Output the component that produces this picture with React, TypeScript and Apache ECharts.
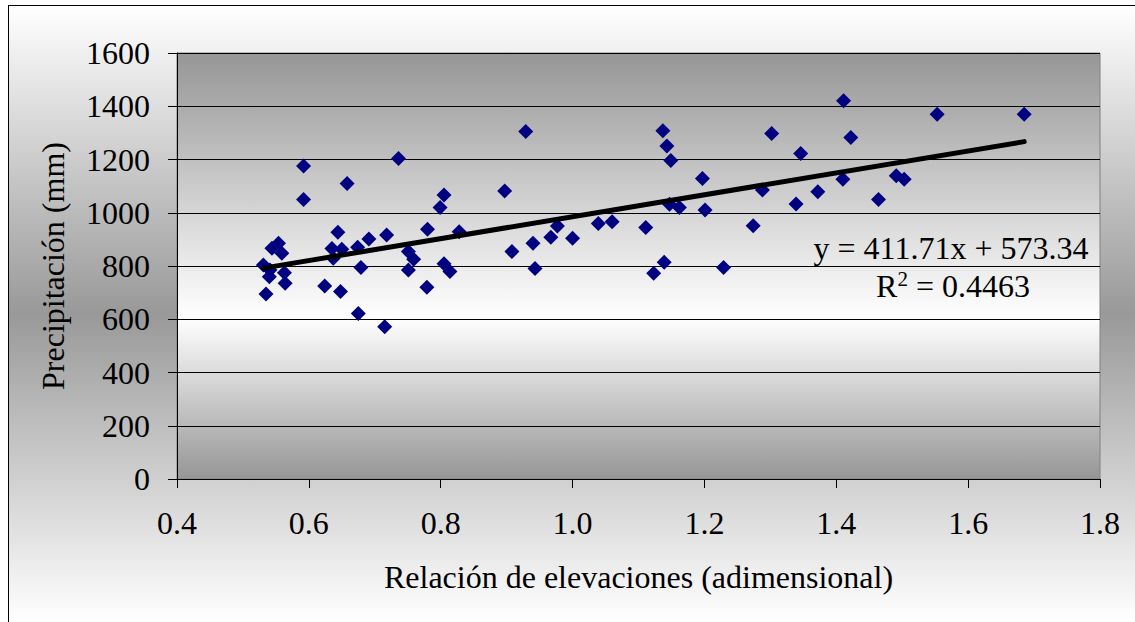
import React, { useEffect, useRef } from "react";
import * as echarts from "echarts";

const xValues = [
  0.592, 0.736, 0.658, 0.592, 0.805, 0.799, 0.644, 0.78, 0.828, 0.718,
  0.691, 0.554, 0.544, 0.635, 0.65, 0.674, 0.559, 0.637, 0.751, 0.759,
  0.531, 0.541, 0.54, 0.563, 0.564, 0.535, 0.679, 0.751, 0.805, 0.814,
  0.624, 0.648, 0.779, 0.675, 0.715, 0.929, 0.897, 0.908, 0.94, 0.943,
  0.977, 0.967, 1.0, 1.039, 1.06, 1.111, 1.137, 1.143, 1.149, 1.147,
  1.162, 1.197, 1.201, 1.139, 1.123, 1.229, 1.411, 1.302, 1.422, 1.346,
  1.553, 1.685, 1.41, 1.372, 1.339, 1.288, 1.464, 1.491, 1.503, 1.274,
];
const yValues = [
  1176, 1204, 1110, 1050, 1067, 1020, 927, 938, 929, 916,
  901, 885, 867, 866, 863, 870, 848, 829, 854, 825,
  804, 785, 760, 775, 735, 695, 794, 785, 808, 779,
  725, 704, 720, 622, 572, 1305, 1082, 854, 885, 791,
  950, 908, 904, 960, 966, 945, 1308, 1251, 1196, 1032,
  1020, 1129, 1010, 814, 773, 794, 1421, 1298, 1283, 1223,
  1370, 1370, 1126, 1079, 1033, 1085, 1050, 1139, 1126, 951,
];
const slope = 411.71;
const intercept = 573.34;
const r2 = 0.4463;
const xTicks = { min: 0.4, max: 1.8, interval: 0.2 };
const yTicks = { min: 0, max: 1600, interval: 200 };
const xTitle = "Relación de elevaciones (adimensional)";
const yTitle = "Precipitación (mm)";

const FONT = "Liberation Serif";
const FS = 32;

export default function App() {
  const ref = useRef<HTMLDivElement>(null);
  useEffect(() => {
    if (!ref.current) return;
    const chart = echarts.init(ref.current, undefined, { renderer: "svg" });
    const points = xValues.map((x, i) => [x, yValues[i]]);
    const xMin = Math.min(...xValues);
    const xMax = Math.max(...xValues);
    const trend = [
      [xMin, slope * xMin + intercept],
      [xMax, slope * xMax + intercept],
    ];
    chart.setOption({
      animation: false,
      backgroundColor: new echarts.graphic.LinearGradient(0, 0, 0, 1, [
        { offset: 0, color: "#ffffff" },
        { offset: 0.5, color: "#999999" },
        { offset: 1, color: "#ffffff" },
      ]),
      textStyle: { fontFamily: FONT },
      grid: {
        left: 168,
        top: 47,
        width: 923,
        height: 426,
        show: true,
        borderColor: "#808080",
        borderWidth: 1,
        backgroundColor: new echarts.graphic.LinearGradient(0, 0, 0, 1, [
          { offset: 0, color: "#969696" },
          { offset: 0.62, color: "#ffffff" },
          { offset: 1, color: "#969696" },
        ]),
      },
      xAxis: {
        type: "value",
        min: xTicks.min,
        max: xTicks.max,
        interval: xTicks.interval,
        name: xTitle,
        nameLocation: "middle",
        nameGap: 82,
        nameTextStyle: { fontFamily: FONT, fontSize: FS, color: "#000" },
        axisLine: { lineStyle: { color: "#000", width: 1 } },
        axisTick: { show: true, inside: false, length: 9, lineStyle: { color: "#000" } },
        axisLabel: {
          fontFamily: FONT,
          fontSize: FS,
          color: "#000",
          margin: 28,
          formatter: (v: number) => v.toFixed(1),
        },
        splitLine: { show: false },
      },
      yAxis: {
        type: "value",
        min: yTicks.min,
        max: yTicks.max,
        interval: yTicks.interval,
        name: yTitle,
        nameLocation: "middle",
        nameGap: 108,
        nameRotate: 90,
        nameTextStyle: { fontFamily: FONT, fontSize: FS, color: "#000" },
        axisLine: { show: true, lineStyle: { color: "#000", width: 1 } },
        axisTick: { show: true, inside: false, length: 9, lineStyle: { color: "#000" } },
        axisLabel: {
          fontFamily: FONT,
          fontSize: FS,
          color: "#000",
          margin: 27,
          formatter: (v: number) => String(v),
        },
        splitLine: { show: true, lineStyle: { color: "#000", width: 1 } },
      },
      series: [
        {
          type: "scatter",
          data: points,
          symbol: "diamond",
          symbolSize: 15,
          itemStyle: { color: "#000080", opacity: 1 },
          z: 2,
        },
        {
          type: "line",
          data: trend,
          showSymbol: false,
          symbol: "none",
          lineStyle: { color: "#000", width: 5, cap: "round" },
          z: 3,
        },
      ],
      graphic: [
        {
          type: "text",
          x: 942,
          y: 242,
          z: 100,
          style: {
            text: `y = ${slope}x + ${intercept}`,
            fontFamily: FONT,
            fontSize: FS,
            fill: "#000",
            align: "center",
            verticalAlign: "middle",
          },
        },
        {
          type: "text",
          x: 944,
          y: 280,
          z: 100,
          style: {
            text: `{r|R}{s|2}{r| = ${r2}}`,
            fontFamily: FONT,
            fontSize: FS,
            fill: "#000",
            align: "center",
            verticalAlign: "middle",
            rich: {
              r: { fontFamily: FONT, fontSize: FS, fill: "#000", lineHeight: 36 },
              s: { fontFamily: FONT, fontSize: 21, fill: "#000", lineHeight: 36, padding: [0, 0, 15, 0] },
            },
          },
        },
      ],
    });
    return () => chart.dispose();
  }, []);
  return (
    <div
      style={{
        position: "absolute",
        left: 8,
        top: 5,
        borderLeft: "1px solid #000",
        borderTop: "1px solid #000",
        width: 1126,
        height: 616,
      }}
    >
      <div ref={ref} style={{ width: 1126, height: 616 }} />
    </div>
  );
}
